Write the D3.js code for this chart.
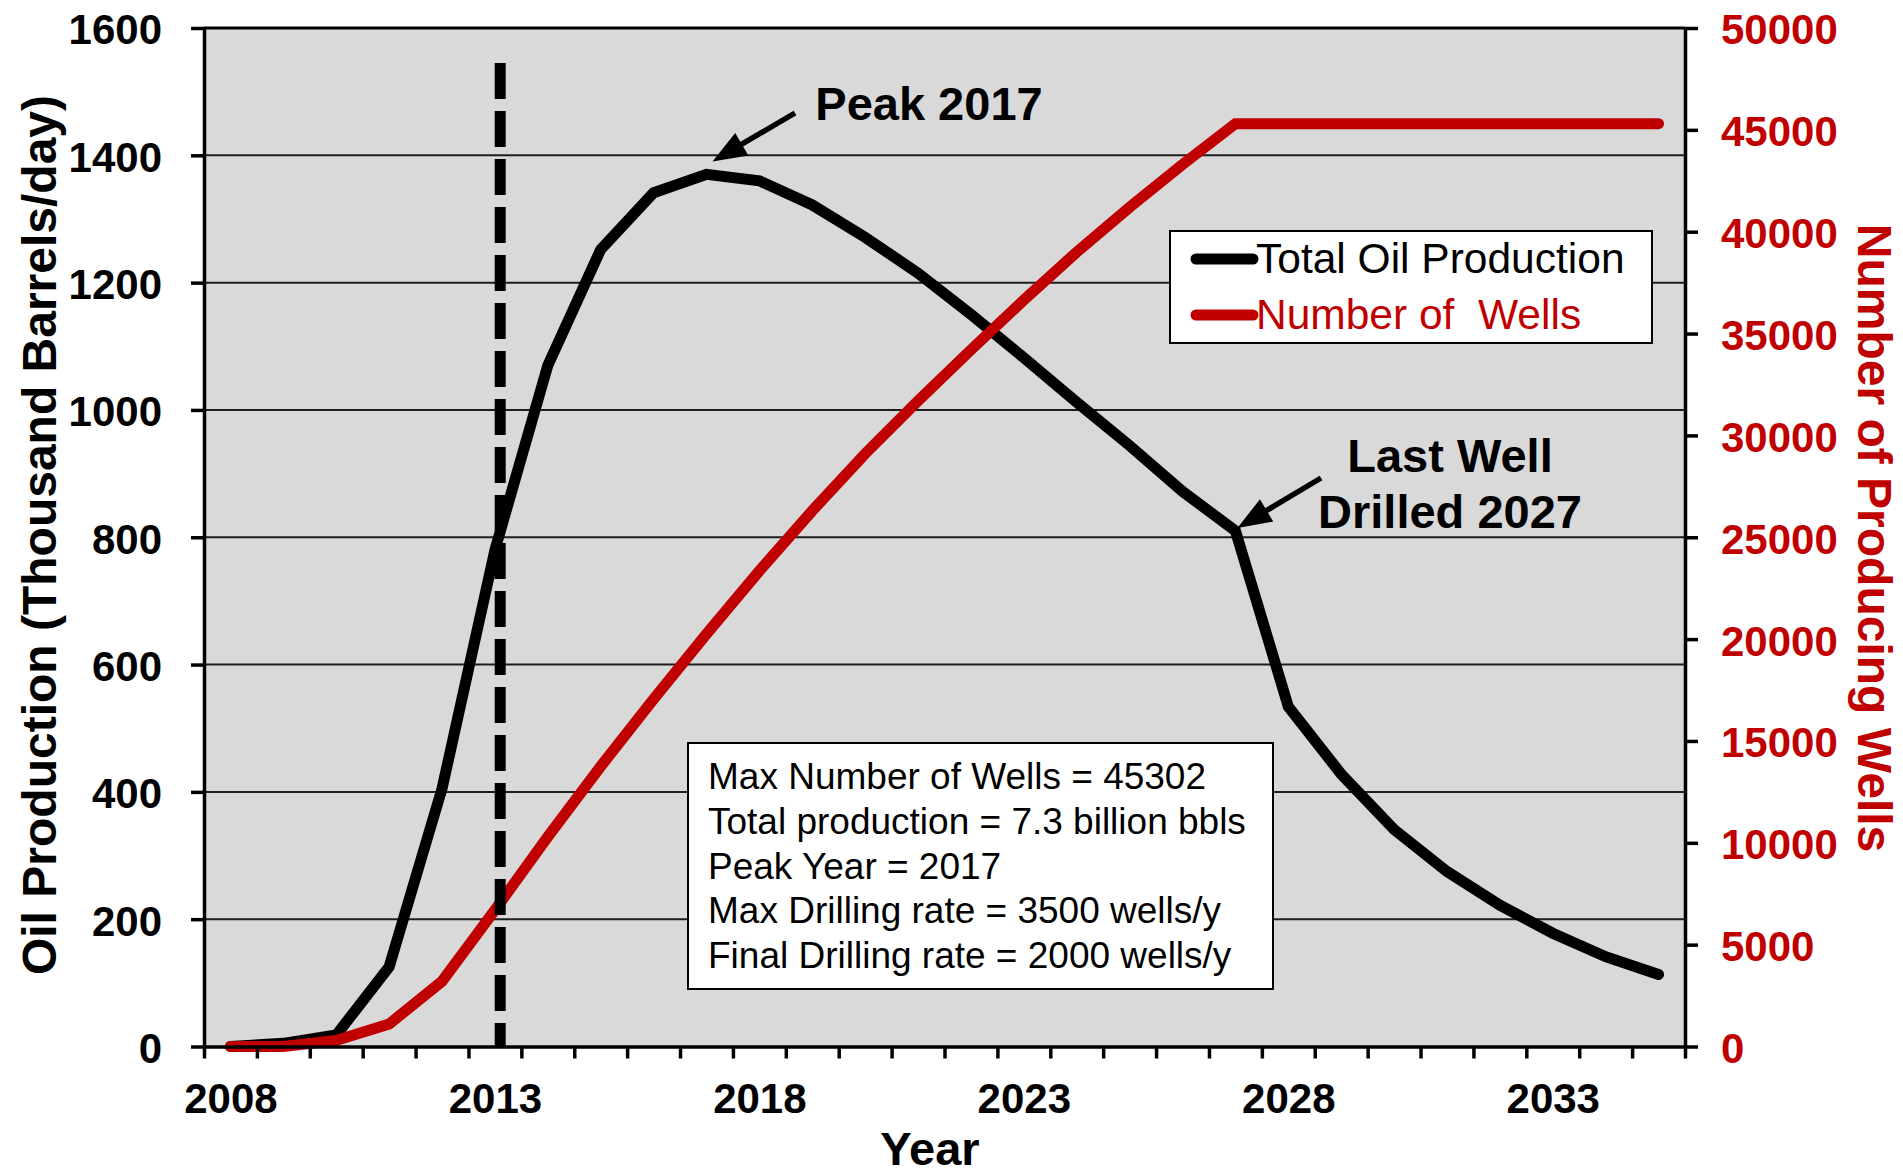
<!DOCTYPE html>
<html>
<head>
<meta charset="utf-8">
<script src="https://cdn.jsdelivr.net/npm/d3@7"></script>
<style>
  html, body { margin: 0; padding: 0; background: #ffffff; }
  svg { display: block; font-family: "Liberation Sans", Arial, Helvetica, sans-serif; }
</style>
</head>
<body>
<svg id="chart" width="1903" height="1174"></svg>
<script>
// ---- data -------------------------------------------------------------
const years = [2008, 2009, 2010, 2011, 2012, 2013, 2014, 2015, 2016, 2017,
               2018, 2019, 2020, 2021, 2022, 2023, 2024, 2025, 2026, 2027,
               2028, 2029, 2030, 2031, 2032, 2033, 2034, 2035];
const yearLabels = [2008, 2013, 2018, 2023, 2028, 2033];

// thousand barrels per day
const oilProduction = [0, 5, 18, 125, 405, 780, 1070, 1252, 1341, 1370,
                       1360, 1322, 1271, 1215, 1150, 1082, 1012, 944, 872, 810,
                       534, 428, 341, 275, 222, 178, 141, 113];

// producing wells
const producingWells = [0, 0, 300, 1100, 3200, 6700, 10300, 13750, 17050, 20250,
                        23350, 26300, 29100, 31700, 34200, 36650, 39000, 41200, 43300, 45302,
                        45302, 45302, 45302, 45302, 45302, 45302, 45302, 45302];

const productionTicks = [0, 200, 400, 600, 800, 1000, 1200, 1400, 1600];
const wellTicks = [0, 5000, 10000, 15000, 20000, 25000, 30000, 35000, 40000, 45000, 50000];

const seriesNames = ["Total Oil Production", "Number of  Wells"];
const summaryLines = [
  "Max Number of Wells = 45302",
  "Total production = 7.3 billion bbls",
  "Peak Year = 2017",
  "Max Drilling rate = 3500 wells/y",
  "Final Drilling rate = 2000 wells/y"
];
const peakYear = 2017;
const lastWellYear = 2027;
const presentYear = 2013.1;      // vertical dashed marker
const presentLineTop = 1545;     // in production units

// ---- layout -----------------------------------------------------------
const RED = "#c00000";
const FONT = "'Liberation Sans', Arial, sans-serif";
const plot = { left: 204, right: 1685, top: 28, bottom: 1046.5 };

const svg = d3.select("#chart");

const x = d3.scaleLinear()
  .domain([years[0] - 0.5, years[years.length - 1] + 0.5])
  .range([plot.left, plot.right]);
const yL = d3.scaleLinear().domain([0, 1600]).range([plot.bottom, plot.top]);
const yR = d3.scaleLinear().domain([0, 50000]).range([plot.bottom, plot.top]);

// plot background
svg.append("rect")
  .attr("x", plot.left).attr("y", plot.top)
  .attr("width", plot.right - plot.left).attr("height", plot.bottom - plot.top)
  .attr("fill", "#d9d9d9");

// horizontal gridlines
svg.append("g").selectAll("line")
  .data(productionTicks.filter(v => v > 0 && v < 1600))
  .join("line")
  .attr("x1", plot.left).attr("x2", plot.right)
  .attr("y1", d => yL(d)).attr("y2", d => yL(d))
  .attr("stroke", "#1e1e1e").attr("stroke-width", 2);

// top border
svg.append("line")
  .attr("x1", plot.left).attr("x2", plot.right)
  .attr("y1", plot.top).attr("y2", plot.top)
  .attr("stroke", "#000").attr("stroke-width", 3);

// ---- series -----------------------------------------------------------
const oilLine = d3.line()
  .x((d, i) => x(years[i]))
  .y(d => yL(d));
const wellLine = d3.line()
  .x((d, i) => x(years[i]))
  .y(d => yR(d));

svg.append("path")
  .datum(oilProduction)
  .attr("d", oilLine)
  .attr("fill", "none").attr("stroke", "#000")
  .attr("stroke-width", 11)
  .attr("stroke-linecap", "round").attr("stroke-linejoin", "miter");

svg.append("path")
  .datum(producingWells)
  .attr("d", wellLine)
  .attr("fill", "none").attr("stroke", RED)
  .attr("stroke-width", 11)
  .attr("stroke-linecap", "round").attr("stroke-linejoin", "miter");

// present-day dashed marker
svg.append("line")
  .attr("x1", x(presentYear)).attr("x2", x(presentYear))
  .attr("y1", yL(presentLineTop)).attr("y2", yL(0))
  .attr("stroke", "#000").attr("stroke-width", 11)
  .attr("stroke-dasharray", "36 12");

// ---- axes -------------------------------------------------------------
function styleDomain(g) {
  g.select(".domain").attr("stroke", "#000").attr("stroke-width", 3.5);
  g.selectAll(".tick line").attr("stroke", "#000").attr("stroke-width", 3.5);
}
function styleLabels(color) {
  return g => g.selectAll("text")
    .attr("font-size", 42).attr("font-weight", "bold").attr("fill", color)
    .attr("font-family", FONT);
}

// x axis: tick marks between categories
const boundaries = d3.range(years.length + 1).map(i => years[0] - 0.5 + i);
svg.append("g")
  .attr("transform", `translate(0,${plot.bottom})`)
  .call(d3.axisBottom(x).tickValues(boundaries).tickSize(12).tickSizeOuter(0).tickFormat(""))
  .call(styleDomain);

// x axis labels
svg.append("g")
  .attr("transform", `translate(0,${plot.bottom})`)
  .call(d3.axisBottom(x).tickValues(yearLabels).tickSize(0).tickPadding(37).tickFormat(d3.format("d")))
  .call(g => g.select(".domain").remove())
  .call(styleLabels("#000"));

// left axis
svg.append("g")
  .attr("transform", `translate(${plot.left},0)`)
  .call(d3.axisLeft(yL).tickValues(productionTicks).tickSize(13).tickSizeOuter(0).tickPadding(29).tickFormat(d3.format("d")))
  .call(styleDomain)
  .call(styleLabels("#000"))
  .call(g => g.selectAll("text").attr("dy", "0.38em"));

// right axis
svg.append("g")
  .attr("transform", `translate(${plot.right},0)`)
  .call(d3.axisRight(yR).tickValues(wellTicks).tickSize(13).tickSizeOuter(0).tickPadding(23).tickFormat(d3.format("d")))
  .call(styleDomain)
  .call(styleLabels(RED))
  .call(g => g.selectAll("text").attr("dy", "0.38em"));

// axis titles
svg.append("text")
  .attr("transform", "translate(56,535) rotate(-90)")
  .attr("text-anchor", "middle")
  .attr("font-size", 48).attr("font-weight", "bold").attr("fill", "#000")
  .text("Oil Production (Thousand Barrels/day)");

svg.append("text")
  .attr("transform", "translate(1858,538) rotate(90)")
  .attr("text-anchor", "middle")
  .attr("font-size", 48).attr("font-weight", "bold").attr("fill", RED)
  .text("Number of Producing Wells");

svg.append("text")
  .attr("x", 930).attr("y", 1165)
  .attr("text-anchor", "middle")
  .attr("font-size", 47).attr("font-weight", "bold").attr("fill", "#000")
  .text("Year");

// ---- legend -----------------------------------------------------------
const legend = svg.append("g");
legend.append("rect")
  .attr("x", 1170).attr("y", 231).attr("width", 482).attr("height", 112)
  .attr("fill", "#fff").attr("stroke", "#000").attr("stroke-width", 2);
const legendColors = ["#000", RED];
seriesNames.forEach((name, i) => {
  const cy = 259 + i * 56;
  legend.append("line")
    .attr("x1", 1196).attr("x2", 1253).attr("y1", cy).attr("y2", cy)
    .attr("stroke", legendColors[i]).attr("stroke-width", 11)
    .attr("stroke-linecap", "round");
  legend.append("text")
    .attr("x", 1256).attr("y", cy + 14)
    .attr("font-size", 42.5).attr("fill", legendColors[i])
    .attr("xml:space", "preserve")
    .style("white-space", "pre")
    .text(name);
});

// ---- summary box ------------------------------------------------------
const info = svg.append("g");
info.append("rect")
  .attr("x", 688).attr("y", 743).attr("width", 585).attr("height", 246)
  .attr("fill", "#fff").attr("stroke", "#000").attr("stroke-width", 2);
info.selectAll("text")
  .data(summaryLines)
  .join("text")
  .attr("x", 708)
  .attr("y", (d, i) => 789 + i * 44.75)
  .attr("font-size", 37).attr("fill", "#000")
  .text(d => d);

// ---- annotations ------------------------------------------------------
function arrow(tail, tip) {
  const dx = tip[0] - tail[0], dy = tip[1] - tail[1];
  const len = Math.hypot(dx, dy);
  const ux = dx / len, uy = dy / len;
  const headLen = 34, headHalf = 13;
  const base = [tip[0] - ux * headLen, tip[1] - uy * headLen];
  svg.append("line")
    .attr("x1", tail[0]).attr("y1", tail[1])
    .attr("x2", base[0] + ux * 4).attr("y2", base[1] + uy * 4)
    .attr("stroke", "#000").attr("stroke-width", 5.5);
  svg.append("polygon")
    .attr("points", [
      tip,
      [base[0] - uy * headHalf, base[1] + ux * headHalf],
      [base[0] + uy * headHalf, base[1] - ux * headHalf]
    ].map(p => p.join(",")).join(" "))
    .attr("fill", "#000");
}

const peakValue = oilProduction[years.indexOf(peakYear)];
arrow([795, 113], [x(peakYear) + 6, yL(peakValue) - 13]);
svg.append("text")
  .attr("x", 929).attr("y", 120)
  .attr("text-anchor", "middle")
  .attr("font-size", 47).attr("font-weight", "bold").attr("fill", "#000")
  .text("Peak " + peakYear);

const lastValue = oilProduction[years.indexOf(lastWellYear)];
arrow([1321, 478], [x(lastWellYear) + 2, yL(lastValue) - 3]);
const lastWellText = svg.append("text")
  .attr("text-anchor", "middle")
  .attr("font-size", 47).attr("font-weight", "bold").attr("fill", "#000");
lastWellText.append("tspan").attr("x", 1450).attr("y", 472).text("Last Well");
lastWellText.append("tspan").attr("x", 1450).attr("y", 528).text("Drilled " + lastWellYear);
</script>
</body>
</html>
